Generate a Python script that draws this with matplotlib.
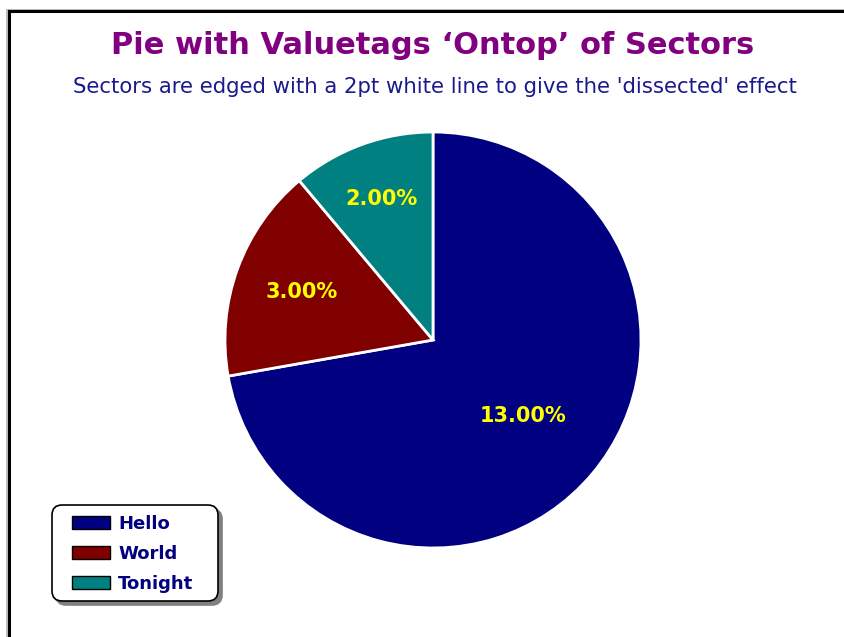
import math
import matplotlib.pyplot as plt
from matplotlib import patches

labels = ['Hello', 'World', 'Tonight']
values = [13, 3, 2]
colors = ['#000080', '#800000', '#008080']

W, H = 844, 637
fig = plt.figure(figsize=(W / 100, H / 100), dpi=100)
fig.patch.set_facecolor('white')


def px_box(x0, y0, x1, y1):
    # pixel box (top-left origin) -> figure fraction (x, y, w, h)
    return x0 / W, 1 - y1 / H, (x1 - x0) / W, (y1 - y0) / H


# frame with a soft grey shadow (only top and left edges are visible)
fig.add_artist(patches.Rectangle((6.5 / W, -0.2), 2, (H - 9.5) / H + 0.2,
                                 transform=fig.transFigure, fill=False,
                                 edgecolor='#b0b0b0', lw=1.2))
fig.add_artist(patches.Rectangle((8.5 / W, -0.2), 2, (H - 11.5) / H + 0.2,
                                 transform=fig.transFigure, fill=False,
                                 edgecolor='black', lw=2.2))

fig.text(433 / W, 1 - 45 / H, 'Pie with Valuetags \u2018Ontop\u2019 of Sectors',
         ha='center', va='center', color='#800080', fontsize=22,
         fontweight='bold', family='DejaVu Sans')
fig.text(435 / W, 1 - 87 / H,
         "Sectors are edged with a 2pt white line to give the 'dissected' effect",
         ha='center', va='center', color='#1a1a8c', fontsize=15.3,
         family='DejaVu Sans')

# pie axes: centre (433, 340), radius 208 px
cx, cy, r = 433, 340, 208
ax = fig.add_axes(px_box(cx - r, cy - r, cx + r, cy + r))
total = sum(values)
wedges, texts, autotexts = ax.pie(
    values, colors=colors, startangle=90, counterclock=False, radius=1,
    autopct=lambda p: '%.2f%%' % (p * total / 100),
    wedgeprops=dict(edgecolor='white', linewidth=2),
    textprops=dict(color='#ffff00', fontsize=15, fontweight='bold',
                   family='DejaVu Sans'))
ax.set_xlim(-1, 1)
ax.set_ylim(-1, 1)
ax.set_aspect('equal')
ax.axis('off')

# label radial distances differ per sector in the original
label_radius = [0.565, 0.67, 0.72]
for w, t, lr in zip(wedges, autotexts, label_radius):
    ang = math.radians((w.theta1 + w.theta2) / 2)
    t.set_position((lr * math.cos(ang), lr * math.sin(ang)))

# legend box drawn by hand so the padding matches
bx0, by0, bx1, by1 = 52, 505, 218, 601
for dx, fc, ec in [(4, '#808080', '#808080'), (0, 'white', 'black')]:
    x, y, w, h = px_box(bx0 + dx, by0 + dx, bx1 + dx, by1 + dx)
    fig.add_artist(patches.FancyBboxPatch(
        (x, y), w, h, boxstyle='round,pad=0,rounding_size=0.012',
        transform=fig.transFigure, facecolor=fc, edgecolor=ec, lw=1.2,
        mutation_aspect=W / H))

leg = fig.legend(wedges, labels, loc='upper left',
                 bbox_to_anchor=(72 / W, 1 - 515 / H),
                 frameon=False,
                 prop=dict(family='DejaVu Sans', weight='bold', size=13),
                 handlelength=2.1, handleheight=0.7, labelspacing=0.66,
                 borderpad=0, handletextpad=0.45, borderaxespad=0)
for txt in leg.get_texts():
    txt.set_color('#000080')
for h in leg.legend_handles:
    h.set_edgecolor('black')
    h.set_linewidth(1)

fig.savefig('out.png', dpi=100, facecolor='white')
